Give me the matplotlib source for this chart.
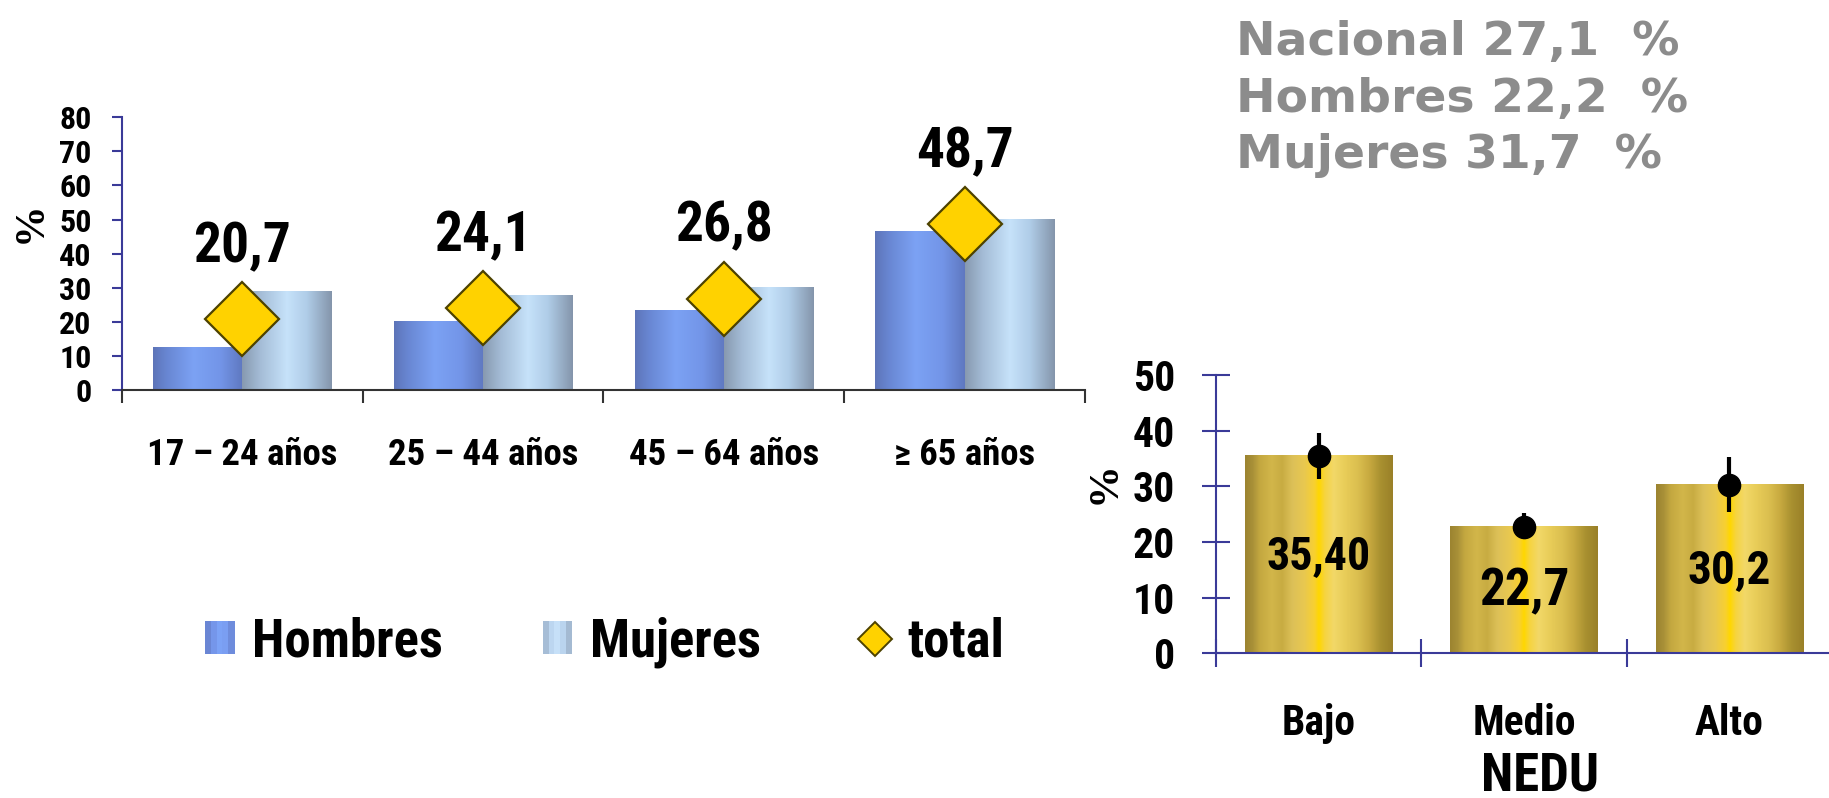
import numpy as np
import matplotlib
matplotlib.use("Agg")
import matplotlib.pyplot as plt
from matplotlib import font_manager as fm
from matplotlib.colors import LinearSegmentedColormap
from matplotlib.legend_handler import HandlerBase
from matplotlib.patches import Rectangle
from matplotlib.lines import Line2D

# ---------------- data ----------------
age_groups = ["17 – 24 años", "25 – 44 años", "45 – 64 años", "≥ 65 años"]
hombres = [12.6, 20.2, 23.2, 46.4]
mujeres = [29.0, 27.8, 30.2, 50.1]
total = [20.7, 24.1, 26.8, 48.7]
total_labels = ["20,7", "24,1", "26,8", "48,7"]

nedu_levels = ["Bajo", "Medio", "Alto"]
nedu_values = [35.40, 22.7, 30.2]
nedu_labels = ["35,40", "22,7", "30,2"]
nedu_ci_low = [31.4, 21.0, 25.4]
nedu_ci_high = [39.5, 25.2, 35.3]

summary_names = ["Nacional", "Hombres", "Mujeres"]
summary_values = ["27,1", "22,2", "31,7"]


# ---------------- fonts ----------------
def pick_narrow_font():
    entries = fm.fontManager.ttflist
    names = {e.name for e in entries}
    for n in ["Liberation Sans Narrow", "Arial Narrow", "Roboto Condensed",
              "Open Sans Condensed", "Noto Sans Condensed",
              "DejaVu Sans Condensed"]:
        if n in names:
            return n, "normal", True
    for fam in ["Liberation Sans", "Roboto", "Noto Sans", "Open Sans",
                "DejaVu Sans", "Lato", "Inter"]:
        for e in entries:
            if e.name == fam and e.stretch in ("condensed", "semi-condensed",
                                               "extra-condensed"):
                return fam, e.stretch, True
    return "Liberation Sans", "normal", False


NARROW, STRETCH, HAVE_NARROW = pick_narrow_font()
plt.rcParams["font.family"] = [NARROW, "DejaVu Sans"]
plt.rcParams["font.stretch"] = STRETCH
plt.rcParams["font.weight"] = "bold"
plt.rcParams["axes.labelweight"] = "bold"
# a regular-width face needs smaller sizes to keep the same text widths
K = 1.0 if HAVE_NARROW else 0.86

NAVY = "#3a3a98"
GOLD = "#FFD200"
GOLD_EDGE = "#4d4200"

hombres_cmap = LinearSegmentedColormap.from_list(
    "hombres", [(0.0, "#5d74b8"), (0.15, "#6886d2"), (0.45, "#7ca2f4"),
                (0.75, "#7395e8"), (1.0, "#5f78c0")])
mujeres_cmap = LinearSegmentedColormap.from_list(
    "mujeres", [(0.0, "#8799b0"), (0.2, "#a4bcd6"), (0.5, "#c6e2fa"),
                (0.72, "#b0cde8"), (1.0, "#8495ab")])
gold_cmap = LinearSegmentedColormap.from_list(
    "gold", [(0.00, "#9c8430"), (0.05, "#a89038"), (0.10, "#c4a840"),
             (0.18, "#d2b64a"), (0.25, "#c8ac42"), (0.32, "#dcc058"),
             (0.40, "#e8c850"), (0.47, "#f8d030"), (0.50, "#ffd700"),
             (0.54, "#f6d440"), (0.60, "#f2d868"), (0.68, "#e8cc58"),
             (0.76, "#dcc050"), (0.84, "#c8aa40"), (0.92, "#a89030"),
             (1.00, "#9a8028")])


def shade_bars(ax, bars, cmap, zorder=2):
    """Paint each bar with a horizontal cylinder-like gradient."""
    grad = np.linspace(0, 1, 256).reshape(1, -1)
    for bar in bars:
        x0, y0 = bar.get_x(), bar.get_y()
        w, h = bar.get_width(), bar.get_height()
        ax.imshow(grad, cmap=cmap, extent=[x0, x0 + w, y0, y0 + h],
                  aspect="auto", interpolation="bilinear", origin="lower",
                  zorder=zorder)


class StripeHandler(HandlerBase):
    def __init__(self, colors):
        super().__init__()
        self.colors = colors

    def create_artists(self, legend, orig_handle, xdescent, ydescent,
                       width, height, fontsize, trans):
        n = len(self.colors)
        arts = []
        for i, c in enumerate(self.colors):
            arts.append(Rectangle((-xdescent + i * width / n, -ydescent),
                                  width / n + 0.4, height, facecolor=c,
                                  edgecolor="none", transform=trans))
        return arts


W, H = 1829, 798
fig = plt.figure(figsize=(W / 100, H / 100), dpi=100)


def box(left, top, right, bottom):
    return [left / W, 1 - bottom / H, (right - left) / W, (bottom - top) / H]


# ---------------- age groups chart ----------------
ax1 = fig.add_axes(box(121.7, 117.3, 1085, 390))
x = np.arange(len(age_groups))
bw = 0.37
bh = ax1.bar(x - bw / 2, hombres, bw, color="none", edgecolor="none")
bm = ax1.bar(x + bw / 2, mujeres, bw, color="none", edgecolor="none")
shade_bars(ax1, bh, hombres_cmap)
shade_bars(ax1, bm, mujeres_cmap)
ax1.plot(x, total, ls="none", marker="D", ms=38, mfc=GOLD, mec=GOLD_EDGE,
         mew=1.6, zorder=5, clip_on=False)
for xi, v, s in zip(x, total, total_labels):
    ax1.annotate(s, (xi, v), xytext=(0, 41), textcoords="offset points",
                 ha="center", va="baseline", fontsize=40 * K)

ax1.set_xlim(-0.5, len(age_groups) - 0.5)
ax1.set_ylim(0, 80)
ax1.set_yticks(range(0, 81, 10))
ax1.tick_params(axis="y", direction="out", length=7.2, width=1.5, color=NAVY,
                labelcolor="black", pad=14.4, labelsize=23 * K)
ax1.set_xticks(np.arange(-0.5, len(age_groups), 1))
ax1.set_xticklabels([])
ax1.tick_params(axis="x", which="major", direction="out", length=9.5,
                width=1.5, color="#333333")
ax1.set_xticks(x, minor=True)
ax1.set_xticklabels(age_groups, minor=True)
ax1.tick_params(axis="x", which="minor", length=0, pad=34,
                labelsize=26.5 * K)
for s in ("top", "right"):
    ax1.spines[s].set_visible(False)
ax1.spines["left"].set_color(NAVY)
ax1.spines["left"].set_linewidth(1.5)
ax1.spines["bottom"].set_color("#333333")
ax1.spines["bottom"].set_linewidth(1.5)
ax1.set_ylabel("%", fontsize=30, family="Liberation Serif", fontweight="bold")
ax1.yaxis.label.set_va("center")
ax1.yaxis.set_label_coords(-0.094, 0.616)

# ---------------- education level chart ----------------
ax2 = fig.add_axes(box(1216, 375, 1832, 653.3))
x2 = np.arange(len(nedu_levels))
gb = ax2.bar(x2, nedu_values, 0.716, color="none", edgecolor="none")
shade_bars(ax2, gb, gold_cmap)
vals = np.array(nedu_values)
yerr = [vals - np.array(nedu_ci_low), np.array(nedu_ci_high) - vals]
ax2.errorbar(x2, vals, yerr=yerr, fmt="o", color="black", ms=16,
             elinewidth=3, capsize=0, zorder=6)
nedu_label_y = [17.4, 11.1, 15.0]
nedu_label_size = [33, 37, 34]
for xi, yi, s, fs in zip(x2, nedu_label_y, nedu_labels, nedu_label_size):
    ax2.text(xi, yi, s, ha="center", va="center", fontsize=fs * K, zorder=7)

ax2.set_xlim(-0.5, len(nedu_levels) - 0.5)
ax2.set_ylim(0, 50)
ax2.set_yticks(range(0, 51, 10))
ax2.tick_params(axis="y", direction="inout", length=19.5, width=1.5,
                color=NAVY, labelcolor="black", pad=19.7, labelsize=30 * K)
ax2.set_xticks(np.arange(-0.5, len(nedu_levels), 1))
ax2.set_xticklabels([])
ax2.tick_params(axis="x", which="major", direction="inout", length=19.5,
                width=1.5, color=NAVY)
ax2.set_xticks(x2, minor=True)
ax2.set_xticklabels(nedu_levels, minor=True)
ax2.tick_params(axis="x", which="minor", length=0, pad=36, labelsize=30 * K)
for s in ("top", "right"):
    ax2.spines[s].set_visible(False)
for s in ("left", "bottom"):
    ax2.spines[s].set_color(NAVY)
    ax2.spines[s].set_linewidth(1.5)
ax2.set_xlabel("NEDU", fontsize=38 * K, fontweight="bold")
ax2.xaxis.label.set_va("center")
ax2.xaxis.set_label_coords(0.526, -0.44)
ax2.set_ylabel("%", fontsize=31, family="Liberation Serif", fontweight="bold")
ax2.yaxis.label.set_va("center")
ax2.yaxis.set_label_coords(-0.18, 0.612)

# ---------------- legend ----------------
h_handle = Rectangle((0, 0), 1, 1)
m_handle = Rectangle((0, 0), 1, 1)
t_handle = Line2D([], [], ls="none", marker="D", ms=17, mfc=GOLD,
                  mec=GOLD_EDGE, mew=1.4)
leg_fs = 38 * K
em_px = leg_fs * 100 / 72
fig.legend([h_handle, m_handle, t_handle], ["Hombres", "Mujeres", "total"],
           handler_map={
               h_handle: StripeHandler(["#6a86d4", "#7596ea", "#7ca2f6",
                                        "#7a9ef2", "#6e8cdc"]),
               m_handle: StripeHandler(["#a6bdd6", "#bcd6f0", "#c6e0f8",
                                        "#bad4ee", "#a4bad2"])},
           loc="center left", bbox_to_anchor=(205 / W, 1 - 642 / H),
           bbox_transform=fig.transFigure, ncol=3, frameon=False,
           fontsize=leg_fs, handlelength=29 / em_px,
           handleheight=30 / em_px, handletextpad=18 / em_px,
           columnspacing=100 / em_px, borderpad=0, borderaxespad=0)

# ---------------- national summary ----------------
for name, val, base in zip(summary_names, summary_values, [55, 111.7, 168]):
    fig.text(1236 / W, 1 - base / H, f"{name} {val}  %", fontsize=34,
             color="#8c8c8c", fontweight="bold", family="DejaVu Sans",
             stretch="normal", va="baseline", ha="left")

fig.savefig("out.png", dpi=100)
